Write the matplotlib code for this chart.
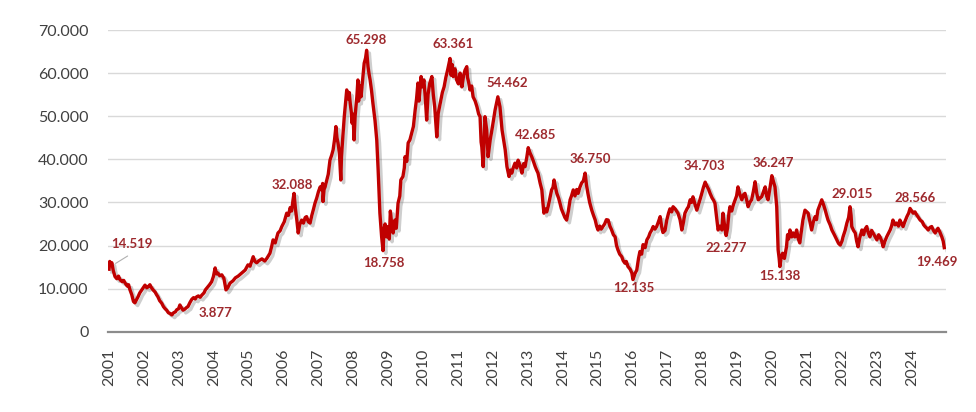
import matplotlib
matplotlib.use("Agg")
import matplotlib.pyplot as plt
import matplotlib.patheffects as pe
from matplotlib.ticker import FuncFormatter, FixedLocator

# ---- data (decimal year, index level in thousands) ----
years = [
 2001.00,2001.02,2001.05,2001.08,2001.12,2001.17,2001.22,2001.27,2001.32,2001.38,2001.42,2001.46,2001.52,2001.56,2001.60,2001.65,2001.70,2001.74,2001.79,2001.83,2001.88,2001.94,2001.98,
 2002.03,2002.08,2002.12,2002.17,2002.21,2002.26,2002.32,2002.36,2002.40,2002.45,2002.51,2002.56,2002.61,2002.65,2002.70,2002.75,2002.80,2002.85,2002.90,2002.94,2002.99,
 2003.03,2003.08,2003.12,2003.18,2003.22,2003.26,2003.32,2003.37,2003.42,2003.47,2003.51,2003.56,2003.61,2003.66,2003.72,2003.76,2003.82,2003.88,2003.94,2003.99,
 2004.04,2004.08,2004.12,2004.17,2004.23,2004.29,2004.35,2004.40,2004.47,2004.55,2004.62,2004.70,2004.77,2004.84,2004.90,2004.98,
 2005.04,2005.13,2005.18,2005.23,2005.30,2005.38,2005.46,2005.52,2005.61,2005.66,2005.70,2005.76,2005.84,2005.90,2005.95,
 2006.02,2006.09,2006.14,2006.19,2006.23,2006.27,2006.30,2006.34,2006.38,2006.42,2006.46,2006.52,2006.57,2006.62,2006.66,2006.71,2006.76,2006.81,2006.86,2006.90,2006.95,
 2007.00,2007.05,2007.09,2007.12,2007.13,2007.16,2007.19,2007.24,2007.28,2007.33,2007.38,2007.42,2007.46,2007.50,2007.53,2007.56,2007.60,2007.64,2007.66,2007.70,2007.74,2007.78,2007.81,2007.85,2007.88,2007.91,2007.94,2007.96,2007.99,
 2008.02,2008.05,2008.10,2008.13,2008.15,2008.17,2008.20,2008.22,2008.26,2008.31,2008.35,2008.38,2008.42,2008.45,2008.48,2008.52,2008.56,2008.62,2008.67,2008.71,2008.76,2008.81,2008.85,2008.88,2008.91,2008.95,2008.99,
 2009.03,2009.06,2009.10,2009.14,2009.19,2009.23,2009.28,2009.33,2009.36,2009.42,2009.46,2009.48,2009.53,2009.57,2009.62,2009.67,2009.72,2009.77,2009.81,2009.85,2009.88,2009.90,2009.94,2009.98,
 2010.02,2010.06,2010.10,2010.14,2010.19,2010.25,2010.29,2010.33,2010.39,2010.43,2010.49,2010.55,2010.60,2010.65,2010.70,2010.77,2010.80,2010.83,2010.86,2010.91,2010.96,
 2011.01,2011.06,2011.11,2011.16,2011.20,2011.25,2011.27,2011.30,2011.34,2011.39,2011.43,2011.49,2011.54,2011.59,2011.63,2011.66,2011.68,2011.72,2011.75,2011.77,2011.82,2011.86,2011.92,2011.97,
 2012.06,2012.14,2012.20,2012.26,2012.35,2012.40,2012.46,2012.50,2012.54,2012.58,2012.63,2012.68,2012.72,2012.78,2012.83,2012.88,2012.92,2012.97,
 2013.01,2013.06,2013.11,2013.16,2013.21,2013.25,2013.29,2013.35,2013.40,2013.43,2013.46,2013.50,2013.54,2013.58,2013.63,2013.68,2013.72,2013.75,2013.79,2013.83,2013.88,2013.92,2013.96,
 2014.01,2014.06,2014.11,2014.16,2014.21,2014.25,2014.30,2014.35,2014.40,2014.44,2014.49,2014.54,2014.59,2014.64,2014.68,2014.72,2014.77,2014.83,2014.88,2014.93,2014.97,
 2015.01,2015.06,2015.10,2015.15,2015.20,2015.25,2015.30,2015.35,2015.40,2015.45,2015.50,2015.54,2015.58,2015.63,2015.69,2015.73,2015.78,2015.82,2015.87,2015.93,2015.98,
 2016.01,2016.07,2016.12,2016.17,2016.21,2016.26,2016.30,2016.36,2016.41,2016.46,2016.50,2016.55,2016.59,2016.64,2016.69,2016.74,2016.79,2016.83,2016.87,2016.93,2016.98,
 2017.03,2017.07,2017.12,2017.16,2017.22,2017.30,2017.36,2017.41,2017.46,2017.50,2017.56,2017.60,2017.65,2017.69,2017.73,2017.79,2017.84,2017.89,2017.93,2017.98,
 2018.03,2018.08,2018.13,2018.18,2018.22,2018.28,2018.32,2018.36,2018.40,2018.45,2018.50,2018.56,2018.59,2018.63,2018.68,2018.72,2018.76,2018.79,2018.84,2018.89,2018.94,2018.98,
 2019.02,2019.07,2019.13,2019.18,2019.22,2019.27,2019.31,2019.36,2019.41,2019.46,2019.51,2019.56,2019.60,2019.65,2019.70,2019.75,2019.80,2019.84,2019.88,2019.93,2019.99,
 2020.03,2020.08,2020.13,2020.17,2020.20,2020.22,2020.26,2020.30,2020.35,2020.41,2020.44,2020.47,2020.51,2020.56,2020.60,2020.65,2020.70,2020.75,2020.79,2020.84,2020.88,2020.94,
 2021.03,2021.08,2021.13,2021.18,2021.23,2021.27,2021.31,2021.37,2021.42,2021.47,2021.52,2021.56,2021.60,2021.66,2021.71,2021.78,2021.85,2021.90,2021.95,
 2022.00,2022.03,2022.09,2022.14,2022.19,2022.23,2022.26,2022.28,2022.33,2022.38,2022.42,2022.46,2022.50,2022.57,2022.62,2022.66,2022.71,2022.75,2022.80,2022.85,2022.89,2022.95,
 2023.00,2023.05,2023.09,2023.14,2023.18,2023.23,2023.28,2023.33,2023.38,2023.42,2023.46,2023.52,2023.57,2023.62,2023.66,2023.71,2023.75,2023.80,2023.86,2023.91,2023.95,
 2024.00,2024.04,2024.09,2024.14,2024.19,2024.24,2024.30,2024.34,2024.38,2024.43,2024.47,2024.52,2024.57,2024.62,2024.67,2024.71,2024.75,2024.80,2024.86,2024.90,2024.93,
]
values = [
 14.5,16.3,15.6,16.0,14.2,12.8,12.3,12.9,12.0,11.6,11.9,11.3,10.6,10.9,9.7,8.6,7.0,6.7,7.5,8.1,9.0,9.7,10.2,
 10.8,10.2,10.4,10.9,10.3,9.7,9.2,8.6,8.1,7.2,6.6,5.8,5.3,5.0,4.4,4.2,3.9,4.4,4.6,5.1,5.3,
 6.2,5.5,5.0,5.3,5.6,5.8,6.8,7.5,7.9,7.6,8.1,8.3,8.0,8.5,9.0,9.7,10.3,10.9,11.6,12.8,
 14.8,13.4,13.6,13.0,13.2,12.4,9.7,10.2,11.3,11.8,12.5,12.9,13.4,13.9,14.3,15.5,
 15.2,17.4,16.3,16.0,16.5,16.9,16.4,17.0,18.2,19.8,21.3,20.6,22.9,23.4,24.4,
 25.5,27.5,27.0,28.8,28.0,30.5,32.1,28.5,25.9,22.9,24.8,25.9,25.2,26.5,26.7,25.5,25.2,27.0,28.5,29.8,31.0,
 32.5,33.6,32.9,34.4,30.2,33.0,33.6,35.2,36.5,39.8,41.0,42.2,44.5,47.6,45.0,43.8,41.5,35.2,40.6,45.5,49.9,53.5,56.1,54.0,55.5,53.0,51.0,48.4,50.5,
 44.5,50.0,54.5,58.4,53.5,55.5,57.0,54.5,58.0,62.3,63.5,65.3,61.5,59.8,58.4,56.0,53.0,49.0,44.5,37.5,27.5,22.0,18.8,24.0,25.0,22.0,24.4,
 21.5,28.0,24.8,22.9,25.9,24.0,29.8,31.5,35.2,36.0,38.0,40.6,39.5,43.8,44.5,46.1,47.6,51.4,54.0,57.7,53.5,55.5,59.2,56.8,
 58.4,54.5,49.1,55.0,57.7,59.2,55.0,52.2,45.2,50.6,53.0,55.5,56.8,59.0,60.7,63.4,59.5,62.0,59.2,61.0,58.4,
 57.5,60.0,56.8,59.5,60.7,61.5,59.0,58.0,56.1,57.0,54.5,53.5,52.2,50.5,49.9,44.0,42.9,38.3,45.0,49.9,46.8,40.6,44.5,46.8,
 51.4,54.5,52.2,46.8,42.2,38.3,36.0,37.5,36.8,38.0,39.1,38.0,39.8,38.5,36.8,39.0,38.3,40.5,
 42.7,41.5,40.6,39.5,38.3,37.5,36.8,34.5,32.9,30.0,27.5,28.5,27.8,29.0,31.0,32.9,33.5,35.2,33.5,32.1,31.0,29.8,28.5,
 27.5,26.5,25.9,28.0,30.6,31.5,32.9,31.5,33.0,32.1,33.5,34.5,35.0,36.8,34.0,32.1,30.0,28.2,27.0,25.9,24.5,
 23.6,24.5,23.8,24.4,25.0,26.0,25.9,24.5,23.6,22.5,22.0,20.0,19.0,18.0,17.4,16.5,15.9,16.3,15.1,14.5,13.6,
 12.1,13.5,14.3,17.0,18.6,18.0,20.2,19.5,21.3,22.0,22.9,23.6,24.4,23.8,24.4,25.5,26.7,24.5,23.0,23.5,25.9,
 27.5,28.5,27.8,29.0,28.5,27.5,26.0,23.6,25.5,27.5,28.5,29.0,30.6,30.0,31.3,29.5,28.2,29.5,30.6,32.0,
 33.5,34.7,33.8,33.0,32.1,31.0,30.5,29.8,27.0,23.6,24.5,23.6,27.5,25.0,22.3,24.0,27.5,29.0,28.0,29.5,30.6,31.5,
 33.6,32.0,30.6,31.8,32.1,30.5,29.0,30.0,30.6,32.5,34.8,32.0,30.6,31.0,31.3,32.5,33.6,31.5,30.6,33.0,36.2,
 35.0,33.6,29.0,19.0,17.0,15.1,17.5,18.2,17.0,19.7,22.5,21.5,23.6,22.0,22.9,22.0,23.6,21.5,20.6,23.5,25.9,28.2,
 27.5,25.5,23.6,25.5,26.7,26.0,28.2,29.5,30.6,29.5,28.2,27.0,25.9,24.8,23.6,22.5,21.3,20.5,20.1,
 21.0,22.0,23.5,25.2,26.5,29.0,27.0,24.4,23.5,22.9,21.0,19.7,21.5,23.6,22.5,23.8,24.4,23.0,22.0,23.5,22.9,22.0,
 21.3,22.5,22.0,21.0,19.7,21.0,22.0,22.8,23.6,24.5,25.9,24.8,25.2,24.5,25.9,25.0,24.4,25.5,26.7,27.5,28.6,
 28.0,27.5,27.8,27.1,26.5,25.9,25.5,24.8,24.4,24.0,23.6,24.2,24.4,23.5,22.9,23.5,24.0,23.2,22.0,21.0,19.5,
]

# annotated values
ann_labels = ["14.519", "3.877", "32.088", "65.298", "18.758", "63.361", "54.462", "42.685",
              "36.750", "12.135", "34.703", "22.277", "36.247", "15.138", "29.015", "28.566", "19.469"]
# label positions (decimal year, thousands)
ann_x = [2001.65, 2004.04, 2006.26, 2008.36, 2008.88, 2010.85, 2012.41, 2013.21,
         2014.78, 2016.04, 2018.05, 2018.68, 2020.03, 2020.21, 2022.28, 2024.09, 2024.71]
ann_y = [20.3, 4.3, 34.0, 67.7, 15.9, 66.7, 57.6, 45.6,
         40.1, 10.1, 38.5, 19.4, 39.1, 12.9, 31.9, 31.1, 16.1]

year_ticks = list(range(2001, 2025))
y_ticks = [0, 10, 20, 30, 40, 50, 60, 70]

LINE = "#C00000"
TXT = "#9E2A2E"
FONT = "Lato"

fig = plt.figure(figsize=(9.76, 4.12), dpi=100)
ax = fig.add_axes([108/976, 1-331.7/412, (946-108)/976, (331.7-30)/412])

ax.plot(years, values, color=LINE, lw=2.4, solid_joinstyle="round", zorder=3,
        path_effects=[pe.SimpleLineShadow(offset=(2, -2), shadow_color="0.45", alpha=0.35),
                      pe.Normal()])

for t, x, y in zip(ann_labels, ann_x, ann_y):
    ax.text(x, y, t, ha="center", va="center", color=TXT, fontsize=9.5,
            fontweight="bold", family=FONT, zorder=4)
# leader line for first label
ax.annotate("", xy=(years[0] + 0.12, values[0] + 1.0), xytext=(2001.6, 17.9),
            arrowprops=dict(arrowstyle="-", color="#b0b0b0", lw=0.8))

ax.set_xlim(2000.97, 2024.98)
ax.set_ylim(0, 70)
ax.yaxis.set_major_locator(FixedLocator(y_ticks))
ax.yaxis.set_major_formatter(FuncFormatter(lambda v, p: "0" if v == 0 else f"{int(v)}.000"))
ax.set_xticks(year_ticks)
ax.set_xticklabels([str(y) for y in year_ticks], rotation=90)
ax.grid(axis="y", color="#d9d9d9", lw=1.0)
ax.set_axisbelow(True)
for s in ["top", "right", "left"]:
    ax.spines[s].set_visible(False)
ax.spines["bottom"].set_color("#8c8c8c")
ax.spines["bottom"].set_linewidth(1.6)
ax.spines["bottom"].set_zorder(5)
ax.tick_params(axis="both", length=0, labelsize=11.5, labelcolor="#404040")
ax.tick_params(axis="y", pad=14)
ax.tick_params(axis="x", pad=12)
for lab in ax.get_xticklabels() + ax.get_yticklabels():
    lab.set_family(FONT)

fig.savefig("out.png", dpi=100)
